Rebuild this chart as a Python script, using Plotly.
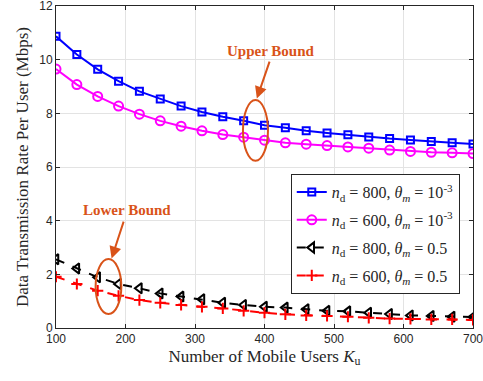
import plotly.graph_objects as go

# Number of mobile users K_u
users = list(range(100, 701, 30))

# Data rate per user (Mbps)
rate_800_small = [10.87, 10.19, 9.64, 9.20, 8.82, 8.53, 8.27, 8.05, 7.87, 7.72, 7.56,
                  7.46, 7.35, 7.27, 7.20, 7.12, 7.06, 7.01, 6.95, 6.90, 6.86]
rate_600_small = [9.65, 9.07, 8.63, 8.27, 7.97, 7.72, 7.52, 7.35, 7.21, 7.11, 7.00,
                  6.90, 6.85, 6.80, 6.75, 6.70, 6.63, 6.58, 6.55, 6.53, 6.50]
rate_800_half = [2.56, 2.22, 1.89, 1.64, 1.48, 1.29, 1.17, 1.07, 0.94, 0.86, 0.79,
                 0.76, 0.70, 0.64, 0.62, 0.57, 0.52, 0.47, 0.45, 0.42, 0.41]
rate_600_half = [1.91, 1.64, 1.39, 1.20, 1.04, 0.94, 0.86, 0.79, 0.73, 0.64, 0.57,
                 0.51, 0.47, 0.45, 0.42, 0.38, 0.35, 0.34, 0.32, 0.32, 0.30]

names = [
    "<i>n</i><sub>d</sub> = 800, <i>θ</i><sub><i>m</i></sub> = 10<sup>-3</sup>",
    "<i>n</i><sub>d</sub> = 600, <i>θ</i><sub><i>m</i></sub> = 10<sup>-3</sup>",
    "<i>n</i><sub>d</sub> = 800, <i>θ</i><sub><i>m</i></sub> = 0.5",
    "<i>n</i><sub>d</sub> = 600, <i>θ</i><sub><i>m</i></sub> = 0.5",
]
series = [rate_800_small, rate_600_small, rate_800_half, rate_600_half]
colors = ["#0000FF", "#FF00FF", "#000000", "#FF0000"]
symbols = ["square-open", "circle-open", "triangle-left-open", "cross-thin-open"]
dashes = ["solid", "solid", "dash", "dash"]
sizes = [7, 9, 9, 8]

orange = "#D95319"

fig = go.Figure()
for i, (name, ys, c, s, d, sz) in enumerate(zip(names, series, colors, symbols, dashes, sizes)):
    fig.add_trace(go.Scatter(
        x=users, y=ys, name=name, mode="lines+markers", legendgroup=f"g{i}",
        line=dict(color=c, width=2, dash=d),
        marker=dict(symbol=s, size=sz, color=c, line=dict(color=c, width=2)),
    ))

# Ellipses marking the two groups of curves
fig.add_shape(type="circle", xref="x", yref="y",
              x0=369, x1=405, y0=6.23, y1=8.50,
              line=dict(color=orange, width=2))
fig.add_shape(type="circle", xref="x", yref="y",
              x0=157, x1=194, y0=0.52, y1=2.57,
              line=dict(color=orange, width=2))

# Labels and arrows
fig.add_annotation(x=409, y=10.32, text="<b>Upper Bound</b>", showarrow=False,
                   font=dict(family="Liberation Serif", size=15, color=orange))
fig.add_annotation(x=389, y=8.55, ax=408, ay=9.98, axref="x", ayref="y",
                   text="", showarrow=True, arrowhead=2, arrowsize=1.2,
                   arrowwidth=2, arrowcolor=orange)
fig.add_annotation(x=202, y=4.39, text="<b>Lower Bound</b>", showarrow=False,
                   font=dict(family="Liberation Serif", size=15, color=orange))
fig.add_annotation(x=180, y=2.59, ax=198, ay=4.02, axref="x", ayref="y",
                   text="", showarrow=True, arrowhead=2, arrowsize=1.2,
                   arrowwidth=2, arrowcolor=orange)

axis_common = dict(
    showgrid=True, gridcolor="#E3E3E3", gridwidth=1,
    showline=True, linecolor="#262626", linewidth=1, mirror="ticks",
    ticks="inside", ticklen=4, tickcolor="#262626",
    tickfont=dict(family="Liberation Sans", size=12, color="#262626"),
    zeroline=False, automargin=False, ticklabeloverflow="allow",
)

fig.update_xaxes(range=[100, 700], dtick=100, **axis_common,
                 title=dict(text="Number of Mobile Users <i>K</i><sub>u</sub>",
                            font=dict(family="Liberation Serif", size=17, color="#262626"),
                            standoff=4))
fig.update_yaxes(range=[0, 12], dtick=2, **axis_common,
                 title=dict(text="Data Transmission Rate Per User (Mbps)",
                            font=dict(family="Liberation Serif", size=17, color="#262626"),
                            standoff=6))

fig.update_layout(
    width=483, height=381,
    margin=dict(l=56, r=10, t=6, b=53),
    plot_bgcolor="white", paper_bgcolor="white",
    showlegend=True,
    legend=dict(x=0.563, y=0.478, xanchor="left", yanchor="top",
                bgcolor="white", bordercolor="#262626", borderwidth=1,
                font=dict(family="Liberation Serif", size=16, color="#262626"),
                tracegroupgap=4, itemwidth=30),
)

fig.write_html("out.html")
